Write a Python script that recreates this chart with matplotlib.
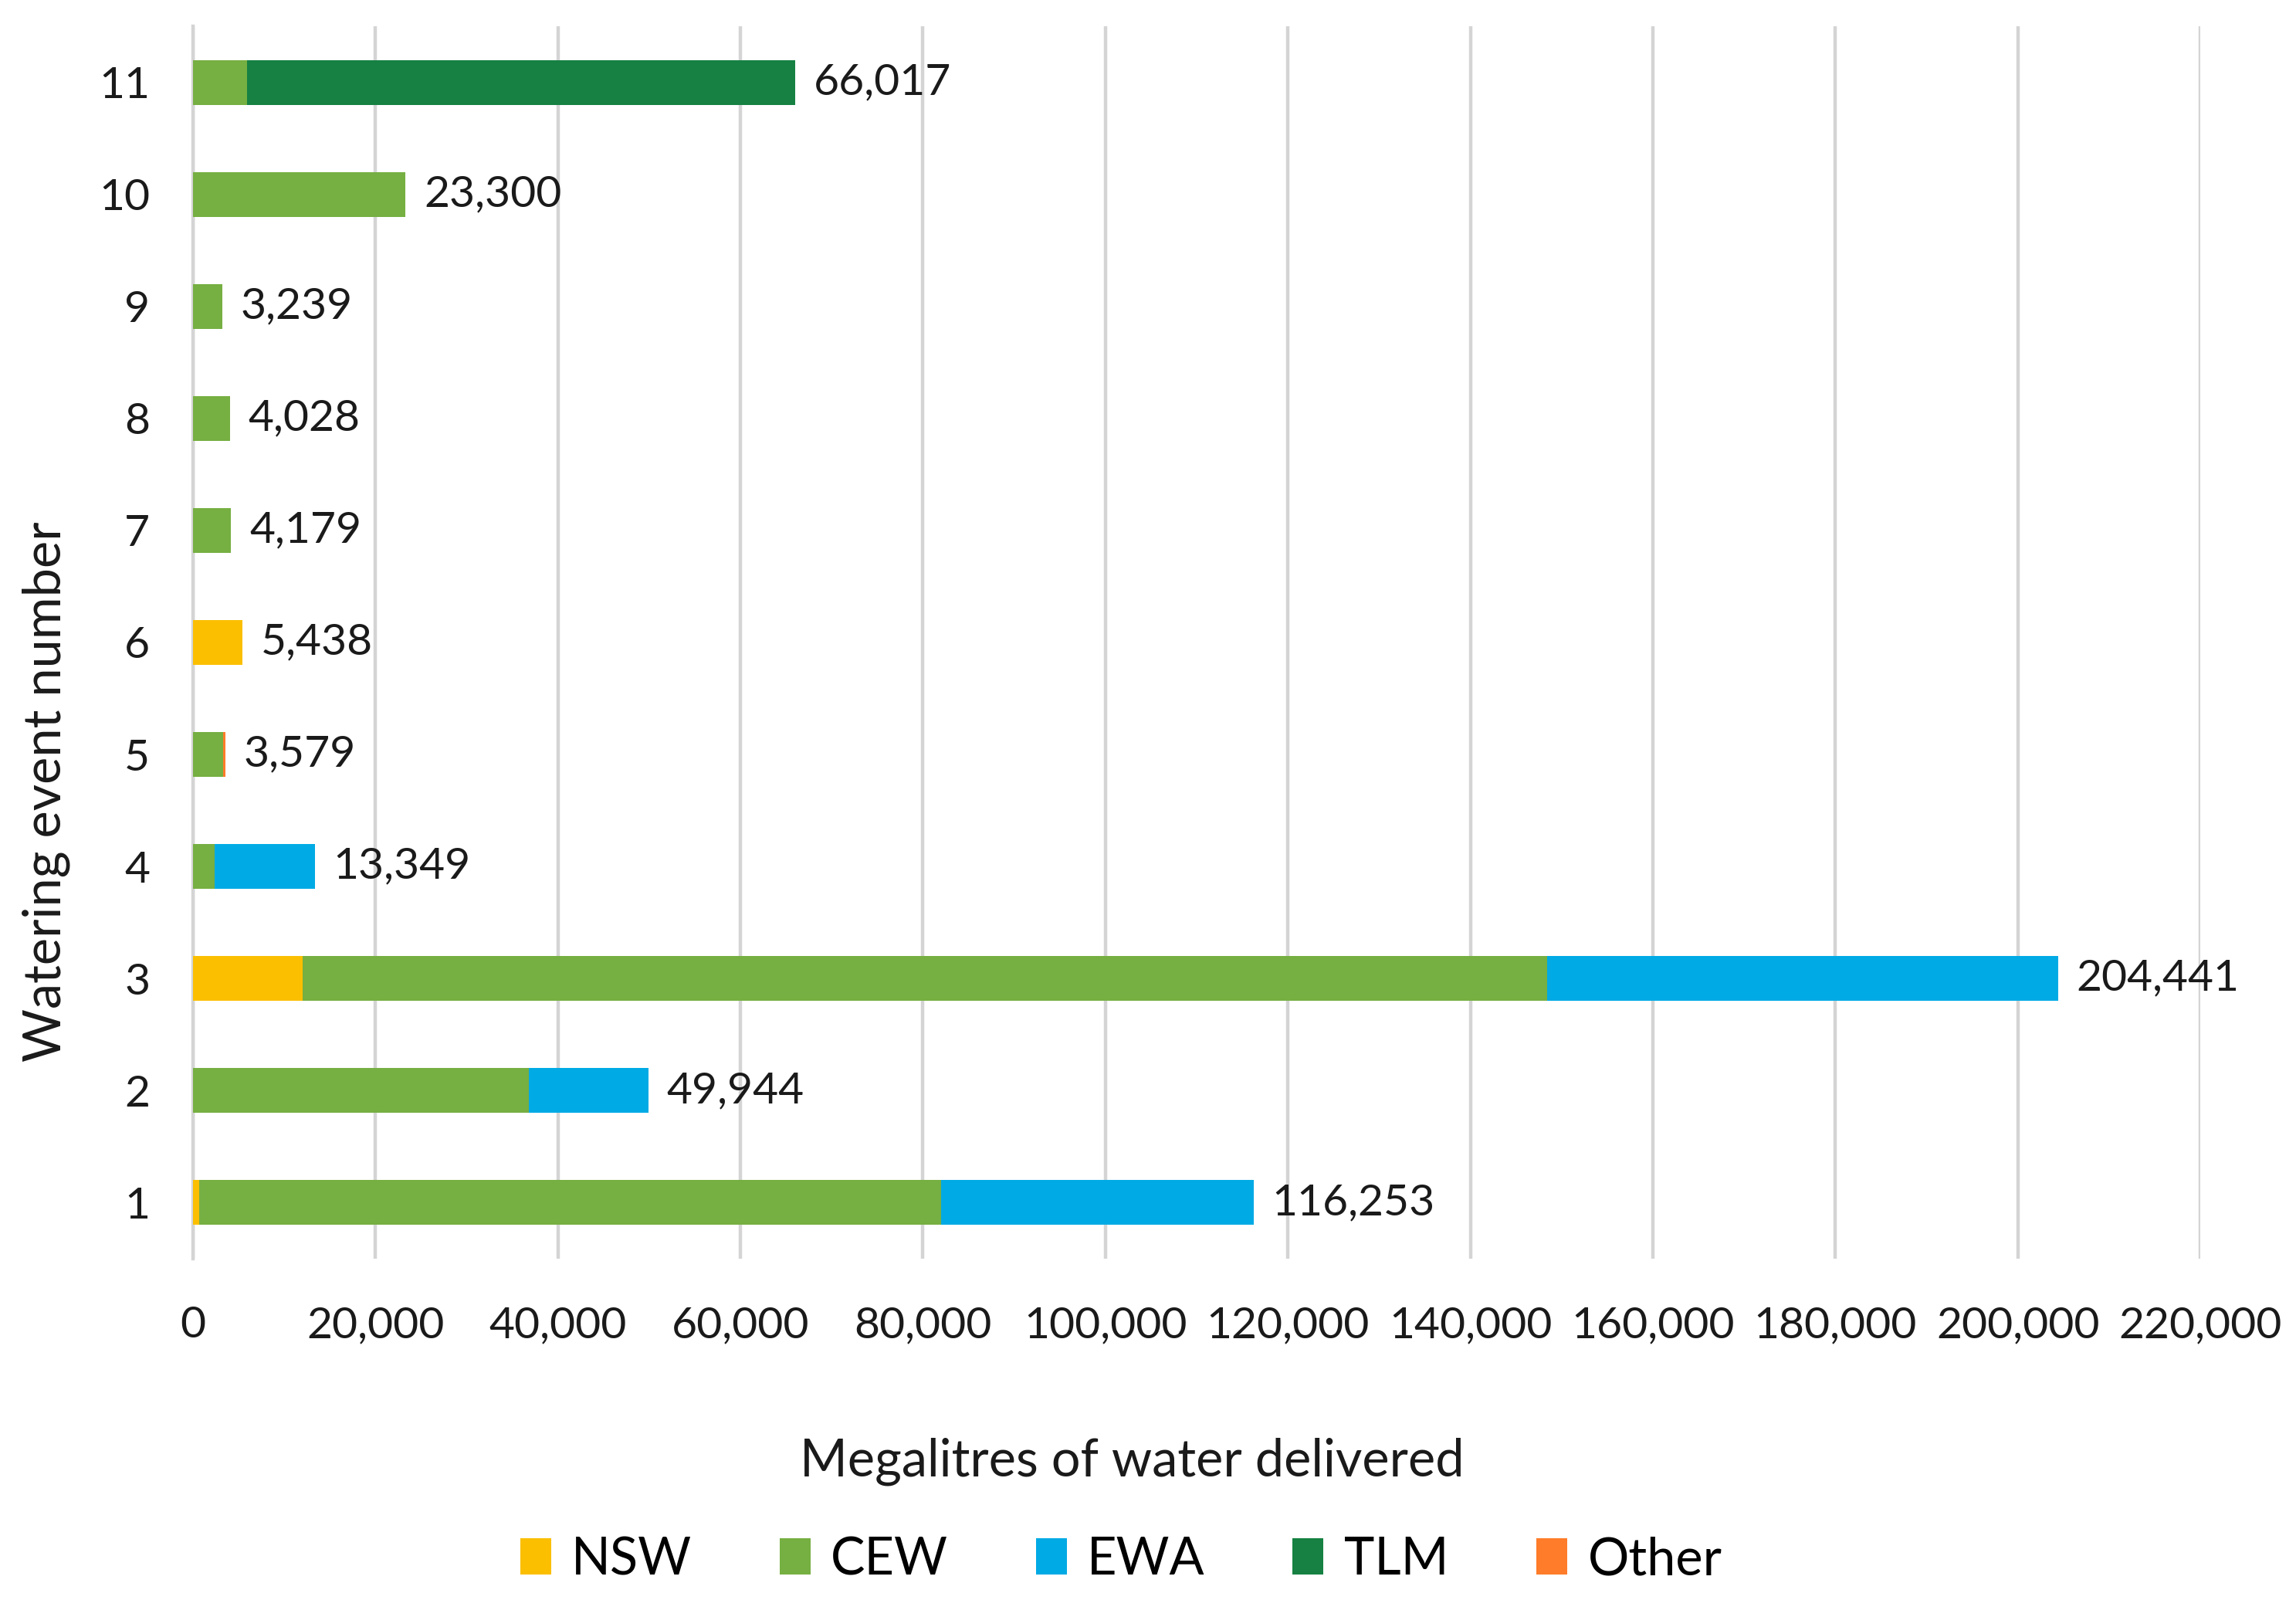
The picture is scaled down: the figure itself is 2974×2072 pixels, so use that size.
import matplotlib
matplotlib.use("Agg")
import matplotlib.pyplot as plt
import numpy as np
from matplotlib.ticker import FuncFormatter

# Watering events 1..11, stacked by water holder
events = ["1", "2", "3", "4", "5", "6", "7", "8", "9", "10", "11"]
nsw = [700, 0, 12000, 0, 0, 5438, 0, 0, 0, 0, 0]
cew = [81300, 36800, 136400, 2400, 3279, 0, 4179, 4028, 3239, 23300, 5900]
ewa = [34253, 13144, 56041, 10949, 0, 0, 0, 0, 0, 0, 0]
tlm = [0, 0, 0, 0, 0, 0, 0, 0, 0, 0, 60117]
other = [0, 0, 0, 0, 300, 0, 0, 0, 0, 0, 0]
totals = [116253, 49944, 204441, 13349, 3579, 5438, 4179, 4028, 3239, 23300, 66017]

series = [("NSW", nsw, "#FBBF00"), ("CEW", cew, "#76AF42"), ("EWA", ewa, "#00AAE4"),
          ("TLM", tlm, "#168142"), ("Other", other, "#FF7C2A")]

plt.rcParams["font.family"] = ["Lato", "DejaVu Sans"]

fig = plt.figure(figsize=(14.87, 10.36), dpi=200)
ax = fig.add_axes([250 / 2974, 1 - 1630 / 2072, 2600 / 2974, 1596 / 2072])

y = np.arange(1, len(events) + 1)
left = np.zeros(len(events))
for name, vals, col in series:
  vals = np.array(vals, dtype=float)
  ax.barh(y, vals, left=left, height=0.4, color=col, label=name, zorder=3)
  left += vals

for yi, tot in zip(y, totals):
  ax.text(tot + 2000, yi, f"{tot:,}", va="center", ha="left", fontsize=20.5, color="#1a1a1a", zorder=4)

ax.set_xlim(0, 220000)
ax.set_ylim(0.5, 11.5)
ax.set_xticks(np.arange(0, 220001, 20000))
ax.xaxis.set_major_formatter(FuncFormatter(lambda v, p: f"{int(v):,}"))
ax.set_yticks(y)
ax.set_yticklabels(events)
ax.tick_params(axis="both", length=0, labelsize=20.5, colors="#1a1a1a")
ax.tick_params(axis="x", pad=22)
ax.tick_params(axis="y", pad=20)

ax.grid(axis="x", color="#D4D4D4", linewidth=1.6, zorder=0)
for s in ["top", "right", "bottom"]:
  ax.spines[s].set_visible(False)
ax.spines["left"].set_color("#D4D4D4")
ax.spines["left"].set_linewidth(1.6)

ax.set_xlabel("Megalitres of water delivered", fontsize=24, color="#1a1a1a")
ax.xaxis.set_label_coords(0.468, -0.145)
ax.set_ylabel("Watering event number", fontsize=24, color="#1a1a1a")
ax.yaxis.set_label_coords(-0.061, 0.379)

handles, labels = ax.get_legend_handles_labels()
fig.legend(handles, labels, loc="center", bbox_to_anchor=(1452 / 2974, 1 - 2020 / 2072), ncol=5,
           frameon=False, fontsize=24, handlelength=0.6, handleheight=0.7, handletextpad=0.4,
           columnspacing=1.7)

fig.savefig("out.png", dpi=200)
